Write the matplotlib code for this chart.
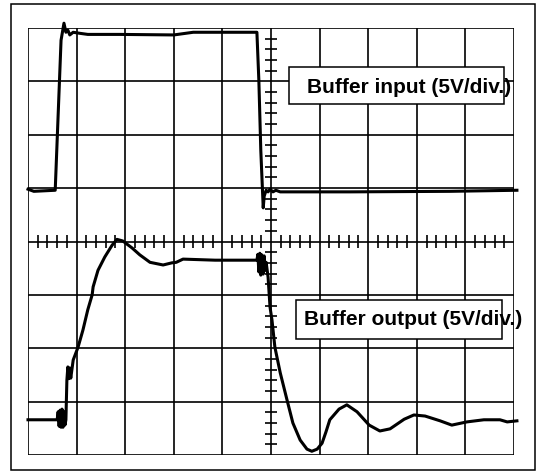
import numpy as np
import matplotlib.pyplot as plt
from matplotlib.patches import Rectangle

plt.rcParams['font.family'] = ['Liberation Sans', 'DejaVu Sans']

# traces, in divisions (10 x 8 grid)
in_t = [0, 0.06, 0.12, 0.56, 0.68, 0.74, 0.78, 0.82, 0.86, 0.93, 1.07, 1.23,
        1.89, 3.0, 3.40, 4.71, 4.75, 4.79, 4.84, 4.86, 4.90, 4.94, 4.98,
        5.04, 5.10, 5.19, 5.39, 6.63, 8.68, 10.06]
in_v = [4.98, 4.96, 4.94, 4.96, 7.77, 8.09, 7.92, 7.96, 7.87, 7.92, 7.90, 7.88,
        7.88, 7.87, 7.92, 7.92, 7.02, 5.71, 4.63, 4.85, 4.96, 4.93, 4.98,
        4.93, 4.96, 4.93, 4.93, 4.93, 4.94, 4.96]

out_t = [0, 0.60, 0.62, 0.64, 0.66, 0.68, 0.70, 0.72, 0.74, 0.76, 0.78, 0.80,
         0.82, 0.84, 0.86, 0.88, 0.93, 1.03, 1.13, 1.23, 1.32, 1.34, 1.44,
         1.58, 1.73, 1.83, 1.95, 2.14, 2.30, 2.51, 2.78, 2.96, 3.05, 3.19,
         3.85, 4.57, 4.71, 4.73, 4.75, 4.77, 4.79, 4.81, 4.84, 4.86, 4.88,
         4.90, 4.94, 4.98, 5.02, 5.08, 5.19, 5.33, 5.45, 5.60, 5.74, 5.84,
         5.95, 6.05, 6.13, 6.21, 6.40, 6.56, 6.77, 7.02, 7.24, 7.45, 7.74,
         7.94, 8.17, 8.48, 8.72, 9.03, 9.38, 9.71, 9.86, 10.06]
out_v = [0.66, 0.66, 0.81, 0.54, 0.84, 0.52, 0.86, 0.52, 0.81, 0.56, 0.66, 1.40,
         1.65, 1.43, 1.63, 1.44, 1.78, 2.02, 2.34, 2.72, 3.00, 3.15, 3.46,
         3.71, 3.93, 4.04, 4.01, 3.88, 3.75, 3.61, 3.56, 3.60, 3.61, 3.67,
         3.65, 3.65, 3.65, 3.76, 3.43, 3.78, 3.37, 3.75, 3.39, 3.73, 3.46,
         3.61, 3.33, 2.77, 2.53, 2.02, 1.54, 1.03, 0.60, 0.28, 0.11, 0.07,
         0.11, 0.22, 0.43, 0.66, 0.86, 0.94, 0.81, 0.56, 0.45, 0.49, 0.67,
         0.75, 0.73, 0.64, 0.56, 0.62, 0.66, 0.66, 0.62, 0.64]

labels = ['Buffer input (5V/div.)', 'Buffer output (5V/div.)']

fig = plt.figure(figsize=(5.37, 4.72), dpi=100)
fig.patches.append(Rectangle((0.0205, 0.0042), 0.9758, 0.9873, transform=fig.transFigure,
                             fill=False, edgecolor='black', linewidth=1.1))
ax = fig.add_axes([28/537, 17/472, 486/537, 427/472])
ax.set_xlim(0, 10)
ax.set_ylim(0, 8)
ax.axis('off')

ax.vlines(np.arange(11), 0, 8, color='black', linewidth=1.2, zorder=1)
ax.hlines(np.arange(9), 0, 10, color='black', linewidth=1.2, zorder=1)

# minor ticks on the centre axes
minor = np.array([m for m in np.arange(0, 10.01, 0.2) if abs(m - round(m)) > 0.01])
ax.vlines(minor, 4 - 0.13, 4 + 0.13, color='black', linewidth=1.2, zorder=1)
minor_y = np.array([m for m in np.arange(0, 8.01, 0.2) if abs(m - round(m)) > 0.01])
ax.hlines(minor_y, 5 - 0.12, 5 + 0.12, color='black', linewidth=1.2, zorder=1)

ax.plot(in_t, in_v, color='black', linewidth=2.2, clip_on=False, zorder=3,
        solid_joinstyle='round')
ax.plot(out_t, out_v, color='black', linewidth=2.2, clip_on=False, zorder=3,
        solid_joinstyle='round')

ax.add_patch(Rectangle((5.37, 6.57), 4.42, 0.70, facecolor='white',
                       edgecolor='black', linewidth=1.1, zorder=4))
ax.text(5.74, 6.78, labels[0], fontsize=15, fontweight='bold', ha='left',
        va='baseline', zorder=5)
ax.add_patch(Rectangle((5.51, 2.17), 4.24, 0.73, facecolor='white',
                       edgecolor='black', linewidth=1.1, zorder=4))
ax.text(5.68, 2.43, labels[1], fontsize=15, fontweight='bold', ha='left',
        va='baseline', zorder=5)

fig.savefig('out.png', dpi=100)
